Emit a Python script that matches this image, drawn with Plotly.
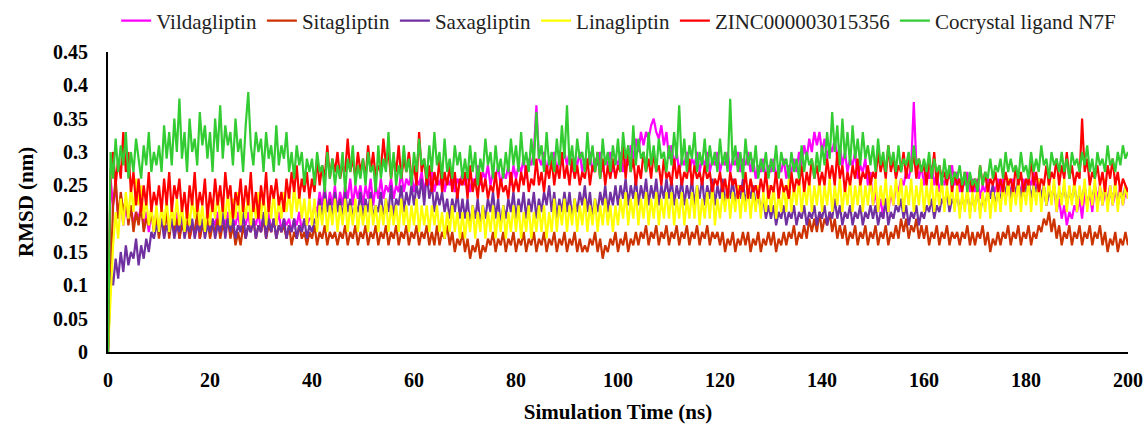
import plotly.graph_objects as go

# time axis: one sample every 0.5 ns, 0 .. 200 ns
time_ns = [i * 0.5 for i in range(401)]

vildagliptin = [
    0.00, 0.26, 0.22, 0.25, 0.20, 0.23, 0.19, 0.22, 0.20, 0.22, 0.19, 0.21, 0.20, 0.22, 0.19, 0.21, 0.18, 0.21, 0.19, 0.21,
    0.18, 0.20, 0.19, 0.21, 0.18, 0.20, 0.19, 0.21, 0.17, 0.20, 0.18, 0.20, 0.17, 0.19, 0.18, 0.20, 0.17, 0.19, 0.18, 0.20,
    0.18, 0.20, 0.19, 0.21, 0.18, 0.20, 0.19, 0.21, 0.18, 0.20, 0.19, 0.21, 0.18, 0.20, 0.19, 0.21, 0.18, 0.20, 0.19, 0.21,
    0.18, 0.20, 0.19, 0.21, 0.18, 0.20, 0.19, 0.21, 0.18, 0.20, 0.19, 0.20, 0.18, 0.20, 0.19, 0.21, 0.18, 0.20, 0.19, 0.20,
    0.20, 0.22, 0.21, 0.24, 0.22, 0.25, 0.21, 0.24, 0.22, 0.25, 0.21, 0.24, 0.22, 0.25, 0.23, 0.26, 0.22, 0.25, 0.23, 0.25,
    0.22, 0.25, 0.23, 0.26, 0.22, 0.25, 0.23, 0.26, 0.23, 0.25, 0.24, 0.26, 0.23, 0.25, 0.24, 0.27, 0.24, 0.26, 0.25, 0.27,
    0.24, 0.26, 0.25, 0.27, 0.24, 0.26, 0.25, 0.27, 0.24, 0.26, 0.25, 0.27, 0.24, 0.26, 0.25, 0.27, 0.24, 0.26, 0.25, 0.27,
    0.25, 0.27, 0.24, 0.26, 0.25, 0.28, 0.25, 0.27, 0.26, 0.28, 0.25, 0.27, 0.26, 0.28, 0.25, 0.27, 0.26, 0.28, 0.25, 0.28,
    0.26, 0.28, 0.27, 0.29, 0.26, 0.29, 0.28, 0.30, 0.37, 0.29, 0.28, 0.30, 0.27, 0.29, 0.28, 0.30, 0.27, 0.29, 0.28, 0.30,
    0.28, 0.30, 0.27, 0.29, 0.28, 0.30, 0.27, 0.29, 0.28, 0.30, 0.27, 0.29, 0.28, 0.30, 0.27, 0.29, 0.28, 0.30, 0.27, 0.29,
    0.28, 0.30, 0.27, 0.29, 0.28, 0.31, 0.29, 0.32, 0.30, 0.33, 0.31, 0.33, 0.32, 0.34, 0.35, 0.33, 0.32, 0.34, 0.31, 0.33,
    0.29, 0.31, 0.28, 0.30, 0.27, 0.29, 0.28, 0.30, 0.27, 0.29, 0.28, 0.30, 0.27, 0.29, 0.28, 0.30, 0.27, 0.29, 0.28, 0.30,
    0.27, 0.29, 0.28, 0.30, 0.27, 0.29, 0.28, 0.30, 0.27, 0.29, 0.28, 0.30, 0.27, 0.29, 0.26, 0.28, 0.27, 0.29, 0.26, 0.28,
    0.27, 0.29, 0.26, 0.28, 0.27, 0.29, 0.26, 0.28, 0.27, 0.29, 0.27, 0.30, 0.28, 0.31, 0.29, 0.32, 0.30, 0.33, 0.31, 0.33,
    0.30, 0.32, 0.29, 0.31, 0.30, 0.32, 0.29, 0.31, 0.28, 0.30, 0.27, 0.29, 0.28, 0.30, 0.26, 0.28, 0.27, 0.29, 0.25, 0.27,
    0.22, 0.24, 0.21, 0.23, 0.20, 0.23, 0.21, 0.24, 0.22, 0.25, 0.24, 0.26, 0.25, 0.27, 0.26, 0.28, 0.375, 0.28, 0.26, 0.28,
    0.25, 0.27, 0.26, 0.28, 0.25, 0.27, 0.24, 0.26, 0.25, 0.27, 0.26, 0.28, 0.25, 0.27, 0.24, 0.26, 0.25, 0.27, 0.24, 0.26,
    0.24, 0.26, 0.23, 0.25, 0.24, 0.26, 0.23, 0.25, 0.24, 0.26, 0.24, 0.26, 0.23, 0.25, 0.24, 0.26, 0.23, 0.25, 0.24, 0.26,
    0.24, 0.26, 0.25, 0.27, 0.24, 0.26, 0.23, 0.25, 0.22, 0.24, 0.23, 0.25, 0.21, 0.23, 0.20, 0.22, 0.19, 0.21, 0.20, 0.22,
    0.21, 0.23, 0.20, 0.24, 0.22, 0.24, 0.21, 0.25, 0.23, 0.25, 0.22, 0.24, 0.23, 0.25, 0.22, 0.24, 0.23, 0.25, 0.22, 0.24,
    0.23,
]

sitagliptin = [
    0.00, 0.10, 0.22, 0.26, 0.20, 0.24, 0.21, 0.23, 0.19, 0.22, 0.18, 0.21, 0.19, 0.22, 0.18, 0.20, 0.19, 0.21, 0.18, 0.20,
    0.17, 0.20, 0.18, 0.21, 0.17, 0.20, 0.18, 0.20, 0.17, 0.19, 0.18, 0.20, 0.17, 0.19, 0.18, 0.21, 0.17, 0.19, 0.18, 0.20,
    0.17, 0.19, 0.18, 0.20, 0.17, 0.19, 0.18, 0.20, 0.17, 0.19, 0.16, 0.18, 0.16, 0.19, 0.17, 0.19, 0.18, 0.20, 0.17, 0.19,
    0.18, 0.20, 0.17, 0.19, 0.18, 0.20, 0.17, 0.19, 0.18, 0.19, 0.17, 0.19, 0.16, 0.18, 0.17, 0.19, 0.17, 0.18, 0.16, 0.18,
    0.17, 0.19, 0.16, 0.18, 0.17, 0.19, 0.16, 0.18, 0.17, 0.18, 0.16, 0.18, 0.17, 0.19, 0.16, 0.18, 0.17, 0.19, 0.16, 0.18,
    0.17, 0.19, 0.16, 0.18, 0.17, 0.19, 0.16, 0.18, 0.17, 0.19, 0.16, 0.18, 0.17, 0.19, 0.16, 0.18, 0.17, 0.19, 0.16, 0.18,
    0.17, 0.19, 0.16, 0.18, 0.17, 0.19, 0.16, 0.18, 0.16, 0.19, 0.16, 0.18, 0.17, 0.19, 0.16, 0.18, 0.15, 0.17, 0.16, 0.18,
    0.15, 0.17, 0.14, 0.16, 0.15, 0.17, 0.14, 0.16, 0.15, 0.17, 0.16, 0.18, 0.15, 0.17, 0.16, 0.18, 0.15, 0.17, 0.16, 0.18,
    0.15, 0.17, 0.16, 0.18, 0.15, 0.17, 0.16, 0.18, 0.15, 0.17, 0.16, 0.18, 0.15, 0.17, 0.16, 0.18, 0.15, 0.17, 0.16, 0.18,
    0.15, 0.17, 0.16, 0.18, 0.15, 0.17, 0.15, 0.16, 0.15, 0.17, 0.16, 0.18, 0.15, 0.17, 0.14, 0.16, 0.15, 0.17, 0.16, 0.18,
    0.15, 0.17, 0.16, 0.18, 0.15, 0.17, 0.16, 0.18, 0.16, 0.18, 0.17, 0.19, 0.16, 0.18, 0.17, 0.19, 0.16, 0.18, 0.17, 0.19,
    0.16, 0.18, 0.17, 0.19, 0.16, 0.18, 0.17, 0.19, 0.16, 0.18, 0.17, 0.19, 0.16, 0.18, 0.17, 0.19, 0.16, 0.18, 0.17, 0.18,
    0.16, 0.18, 0.15, 0.17, 0.16, 0.18, 0.15, 0.17, 0.16, 0.18, 0.16, 0.18, 0.15, 0.17, 0.16, 0.18, 0.15, 0.17, 0.16, 0.18,
    0.16, 0.18, 0.15, 0.17, 0.16, 0.18, 0.16, 0.18, 0.17, 0.19, 0.16, 0.18, 0.17, 0.19, 0.17, 0.20, 0.18, 0.20, 0.18, 0.21,
    0.18, 0.20, 0.19, 0.21, 0.18, 0.20, 0.17, 0.19, 0.17, 0.19, 0.16, 0.18, 0.17, 0.19, 0.16, 0.18, 0.17, 0.19, 0.16, 0.18,
    0.17, 0.19, 0.16, 0.18, 0.17, 0.19, 0.16, 0.18, 0.17, 0.19, 0.17, 0.20, 0.18, 0.20, 0.17, 0.19, 0.18, 0.20, 0.17, 0.19,
    0.17, 0.19, 0.16, 0.18, 0.17, 0.19, 0.16, 0.18, 0.17, 0.19, 0.16, 0.18, 0.17, 0.18, 0.16, 0.18, 0.17, 0.19, 0.16, 0.18,
    0.16, 0.18, 0.17, 0.19, 0.16, 0.18, 0.15, 0.17, 0.16, 0.18, 0.16, 0.18, 0.17, 0.19, 0.16, 0.18, 0.17, 0.19, 0.16, 0.18,
    0.17, 0.19, 0.16, 0.18, 0.17, 0.19, 0.18, 0.20, 0.19, 0.21, 0.18, 0.20, 0.17, 0.19, 0.16, 0.18, 0.17, 0.19, 0.16, 0.18,
    0.17, 0.19, 0.16, 0.18, 0.17, 0.19, 0.16, 0.18, 0.17, 0.19, 0.16, 0.18, 0.15, 0.17, 0.16, 0.18, 0.15, 0.17, 0.16, 0.18,
    0.16,
]

saxagliptin = [
    0.00, 0.12, 0.10, 0.14, 0.11, 0.15, 0.12, 0.16, 0.13, 0.15, 0.14, 0.17, 0.13, 0.16, 0.14, 0.17, 0.15, 0.18, 0.17, 0.19,
    0.18, 0.20, 0.17, 0.19, 0.18, 0.20, 0.17, 0.19, 0.18, 0.21, 0.17, 0.19, 0.18, 0.20, 0.17, 0.19, 0.18, 0.20, 0.17, 0.19,
    0.18, 0.20, 0.17, 0.19, 0.18, 0.21, 0.17, 0.20, 0.18, 0.20, 0.17, 0.19, 0.18, 0.21, 0.17, 0.19, 0.18, 0.20, 0.17, 0.19,
    0.18, 0.21, 0.17, 0.20, 0.18, 0.20, 0.17, 0.19, 0.18, 0.20, 0.17, 0.19, 0.18, 0.20, 0.17, 0.19, 0.18, 0.20, 0.17, 0.19,
    0.18, 0.20, 0.19, 0.23, 0.20, 0.24, 0.21, 0.23, 0.20, 0.24, 0.21, 0.23, 0.20, 0.24, 0.21, 0.23, 0.20, 0.22, 0.21, 0.24,
    0.20, 0.23, 0.21, 0.24, 0.20, 0.22, 0.21, 0.24, 0.20, 0.23, 0.21, 0.25, 0.20, 0.23, 0.22, 0.25, 0.21, 0.24, 0.22, 0.25,
    0.22, 0.25, 0.23, 0.26, 0.22, 0.27, 0.23, 0.25, 0.21, 0.24, 0.22, 0.24, 0.21, 0.23, 0.20, 0.23, 0.21, 0.24, 0.20, 0.23,
    0.20, 0.23, 0.19, 0.22, 0.20, 0.23, 0.19, 0.22, 0.20, 0.23, 0.21, 0.24, 0.20, 0.23, 0.19, 0.22, 0.20, 0.23, 0.21, 0.24,
    0.20, 0.23, 0.21, 0.24, 0.20, 0.23, 0.21, 0.24, 0.20, 0.23, 0.21, 0.24, 0.22, 0.25, 0.21, 0.24, 0.20, 0.23, 0.21, 0.24,
    0.21, 0.24, 0.20, 0.23, 0.21, 0.24, 0.22, 0.25, 0.21, 0.24, 0.20, 0.23, 0.21, 0.24, 0.22, 0.25, 0.21, 0.24, 0.22, 0.25,
    0.22, 0.25, 0.23, 0.26, 0.22, 0.25, 0.23, 0.26, 0.22, 0.25, 0.23, 0.26, 0.22, 0.25, 0.23, 0.26, 0.22, 0.25, 0.23, 0.26,
    0.23, 0.26, 0.22, 0.25, 0.23, 0.26, 0.22, 0.25, 0.23, 0.26, 0.22, 0.25, 0.23, 0.26, 0.22, 0.25, 0.23, 0.26, 0.22, 0.25,
    0.23, 0.26, 0.22, 0.25, 0.23, 0.26, 0.22, 0.25, 0.23, 0.26, 0.22, 0.25, 0.23, 0.25, 0.22, 0.24, 0.21, 0.23, 0.20, 0.22,
    0.20, 0.22, 0.19, 0.21, 0.20, 0.22, 0.19, 0.21, 0.20, 0.22, 0.19, 0.21, 0.20, 0.22, 0.19, 0.21, 0.20, 0.22, 0.19, 0.21,
    0.20, 0.22, 0.19, 0.21, 0.20, 0.23, 0.20, 0.22, 0.19, 0.21, 0.20, 0.22, 0.19, 0.21, 0.20, 0.22, 0.19, 0.21, 0.20, 0.22,
    0.20, 0.22, 0.19, 0.21, 0.20, 0.23, 0.19, 0.21, 0.20, 0.22, 0.21, 0.23, 0.20, 0.22, 0.19, 0.21, 0.20, 0.22, 0.19, 0.21,
    0.20, 0.22, 0.21, 0.23, 0.20, 0.22, 0.21, 0.23, 0.22, 0.24, 0.21, 0.23, 0.22, 0.24, 0.21, 0.23, 0.22, 0.24, 0.21, 0.23,
    0.22, 0.24, 0.21, 0.23, 0.22, 0.24, 0.23, 0.25, 0.22, 0.24, 0.23, 0.25, 0.24, 0.26, 0.23, 0.25, 0.24, 0.26, 0.23, 0.25,
    0.24, 0.26, 0.23, 0.25, 0.24, 0.26, 0.23, 0.25, 0.22, 0.24, 0.23, 0.25, 0.22, 0.24, 0.23, 0.25, 0.22, 0.24, 0.23, 0.25,
    0.22, 0.24, 0.23, 0.25, 0.22, 0.24, 0.23, 0.25, 0.22, 0.24, 0.23, 0.25, 0.22, 0.24, 0.23, 0.25, 0.22, 0.24, 0.23, 0.25,
    0.24,
]

linagliptin = [
    0.00, 0.09, 0.16, 0.21, 0.17, 0.23, 0.19, 0.24, 0.20, 0.25, 0.21, 0.26, 0.22, 0.25, 0.20, 0.23, 0.19, 0.22, 0.18, 0.22,
    0.18, 0.22, 0.19, 0.23, 0.18, 0.22, 0.19, 0.23, 0.19, 0.22, 0.18, 0.22, 0.19, 0.23, 0.20, 0.23, 0.19, 0.22, 0.18, 0.22,
    0.19, 0.23, 0.20, 0.24, 0.19, 0.23, 0.20, 0.24, 0.19, 0.23, 0.20, 0.24, 0.19, 0.23, 0.20, 0.24, 0.19, 0.23, 0.20, 0.24,
    0.20, 0.24, 0.19, 0.23, 0.20, 0.24, 0.19, 0.23, 0.20, 0.24, 0.21, 0.24, 0.20, 0.25, 0.21, 0.24, 0.20, 0.23, 0.19, 0.23,
    0.19, 0.23, 0.18, 0.22, 0.19, 0.23, 0.18, 0.22, 0.19, 0.23, 0.18, 0.22, 0.19, 0.23, 0.18, 0.22, 0.19, 0.23, 0.18, 0.22,
    0.19, 0.22, 0.18, 0.23, 0.19, 0.22, 0.18, 0.22, 0.19, 0.23, 0.18, 0.22, 0.19, 0.22, 0.18, 0.23, 0.19, 0.22, 0.18, 0.22,
    0.19, 0.23, 0.18, 0.22, 0.19, 0.22, 0.18, 0.22, 0.19, 0.22, 0.18, 0.21, 0.17, 0.21, 0.18, 0.22, 0.18, 0.21, 0.17, 0.21,
    0.17, 0.21, 0.18, 0.22, 0.17, 0.21, 0.18, 0.22, 0.17, 0.21, 0.18, 0.22, 0.17, 0.21, 0.18, 0.22, 0.17, 0.21, 0.18, 0.22,
    0.18, 0.22, 0.17, 0.21, 0.18, 0.22, 0.17, 0.21, 0.18, 0.22, 0.18, 0.22, 0.17, 0.21, 0.18, 0.23, 0.18, 0.22, 0.19, 0.23,
    0.18, 0.22, 0.19, 0.23, 0.18, 0.22, 0.19, 0.23, 0.18, 0.22, 0.19, 0.23, 0.18, 0.22, 0.19, 0.23, 0.19, 0.22, 0.18, 0.22,
    0.19, 0.23, 0.20, 0.24, 0.19, 0.23, 0.20, 0.24, 0.19, 0.23, 0.20, 0.24, 0.19, 0.23, 0.20, 0.24, 0.19, 0.23, 0.20, 0.24,
    0.20, 0.24, 0.19, 0.23, 0.20, 0.24, 0.19, 0.23, 0.20, 0.24, 0.20, 0.25, 0.19, 0.23, 0.20, 0.24, 0.20, 0.25, 0.19, 0.23,
    0.20, 0.24, 0.21, 0.25, 0.20, 0.24, 0.21, 0.25, 0.20, 0.24, 0.21, 0.25, 0.20, 0.24, 0.21, 0.25, 0.20, 0.24, 0.21, 0.25,
    0.21, 0.25, 0.20, 0.24, 0.21, 0.25, 0.21, 0.26, 0.21, 0.25, 0.22, 0.26, 0.21, 0.25, 0.22, 0.26, 0.21, 0.25, 0.22, 0.26,
    0.21, 0.25, 0.22, 0.26, 0.21, 0.25, 0.22, 0.26, 0.21, 0.25, 0.22, 0.26, 0.21, 0.25, 0.22, 0.26, 0.21, 0.25, 0.22, 0.26,
    0.22, 0.26, 0.21, 0.25, 0.22, 0.26, 0.21, 0.25, 0.22, 0.26, 0.22, 0.26, 0.21, 0.25, 0.22, 0.26, 0.21, 0.25, 0.22, 0.26,
    0.21, 0.25, 0.22, 0.26, 0.21, 0.25, 0.22, 0.26, 0.21, 0.25, 0.22, 0.25, 0.21, 0.25, 0.20, 0.24, 0.21, 0.25, 0.20, 0.24,
    0.21, 0.25, 0.20, 0.24, 0.21, 0.25, 0.20, 0.24, 0.21, 0.25, 0.21, 0.25, 0.22, 0.26, 0.21, 0.25, 0.22, 0.26, 0.21, 0.25,
    0.22, 0.26, 0.21, 0.25, 0.22, 0.26, 0.21, 0.25, 0.22, 0.26, 0.22, 0.26, 0.21, 0.25, 0.22, 0.26, 0.21, 0.25, 0.22, 0.26,
    0.21, 0.25, 0.22, 0.26, 0.21, 0.25, 0.22, 0.26, 0.21, 0.25, 0.22, 0.26, 0.21, 0.25, 0.22, 0.26, 0.21, 0.25, 0.22, 0.25,
    0.23,
]

zinc000003015356 = [
    0.00, 0.27, 0.30, 0.25, 0.29, 0.26, 0.33, 0.27, 0.30, 0.24, 0.27, 0.22, 0.26, 0.21, 0.25, 0.22, 0.27, 0.21, 0.24, 0.22,
    0.25, 0.21, 0.26, 0.22, 0.27, 0.21, 0.25, 0.23, 0.26, 0.21, 0.24, 0.20, 0.25, 0.22, 0.27, 0.21, 0.24, 0.22, 0.26, 0.20,
    0.24, 0.21, 0.26, 0.22, 0.25, 0.21, 0.27, 0.23, 0.25, 0.20, 0.24, 0.22, 0.26, 0.21, 0.25, 0.22, 0.27, 0.21, 0.24, 0.20,
    0.25, 0.22, 0.27, 0.21, 0.25, 0.23, 0.26, 0.22, 0.24, 0.21, 0.26, 0.23, 0.27, 0.24, 0.28, 0.23, 0.26, 0.24, 0.27, 0.23,
    0.26, 0.24, 0.29, 0.25, 0.28, 0.26, 0.31, 0.26, 0.29, 0.27, 0.30, 0.26, 0.28, 0.27, 0.32, 0.27, 0.29, 0.26, 0.30, 0.27,
    0.29, 0.26, 0.31, 0.27, 0.30, 0.26, 0.28, 0.27, 0.32, 0.28, 0.30, 0.26, 0.29, 0.27, 0.31, 0.26, 0.29, 0.27, 0.30, 0.26,
    0.28, 0.25, 0.33, 0.27, 0.29, 0.25, 0.28, 0.24, 0.27, 0.25, 0.29, 0.24, 0.27, 0.25, 0.28, 0.24, 0.27, 0.23, 0.26, 0.25,
    0.27, 0.23, 0.28, 0.24, 0.26, 0.23, 0.27, 0.24, 0.26, 0.23, 0.25, 0.24, 0.27, 0.23, 0.26, 0.24, 0.25, 0.23, 0.27, 0.24,
    0.26, 0.24, 0.27, 0.25, 0.28, 0.24, 0.26, 0.25, 0.29, 0.25, 0.27, 0.24, 0.28, 0.26, 0.29, 0.25, 0.28, 0.26, 0.30, 0.26,
    0.28, 0.25, 0.29, 0.26, 0.28, 0.25, 0.27, 0.26, 0.29, 0.25, 0.28, 0.27, 0.30, 0.26, 0.29, 0.25, 0.28, 0.26, 0.29, 0.26,
    0.28, 0.27, 0.31, 0.26, 0.30, 0.27, 0.29, 0.25, 0.28, 0.26, 0.30, 0.27, 0.29, 0.26, 0.30, 0.27, 0.28, 0.25, 0.29, 0.26,
    0.27, 0.25, 0.29, 0.26, 0.28, 0.25, 0.27, 0.26, 0.29, 0.25, 0.28, 0.26, 0.27, 0.25, 0.28, 0.26, 0.27, 0.24, 0.26, 0.25,
    0.27, 0.24, 0.26, 0.23, 0.27, 0.25, 0.26, 0.23, 0.25, 0.24, 0.27, 0.23, 0.26, 0.24, 0.25, 0.23, 0.26, 0.24, 0.27, 0.23,
    0.25, 0.24, 0.27, 0.23, 0.26, 0.24, 0.25, 0.23, 0.27, 0.24, 0.26, 0.25, 0.28, 0.24, 0.27, 0.25, 0.29, 0.26, 0.28, 0.25,
    0.27, 0.25, 0.29, 0.26, 0.28, 0.25, 0.30, 0.26, 0.28, 0.24, 0.27, 0.25, 0.28, 0.26, 0.29, 0.25, 0.27, 0.26, 0.28, 0.25,
    0.27, 0.26, 0.30, 0.27, 0.29, 0.26, 0.31, 0.27, 0.29, 0.26, 0.28, 0.27, 0.30, 0.26, 0.29, 0.27, 0.30, 0.26, 0.29, 0.27,
    0.28, 0.25, 0.29, 0.26, 0.30, 0.25, 0.28, 0.26, 0.27, 0.25, 0.28, 0.24, 0.27, 0.25, 0.26, 0.24, 0.27, 0.25, 0.26, 0.24,
    0.26, 0.24, 0.28, 0.25, 0.27, 0.24, 0.26, 0.25, 0.27, 0.24, 0.26, 0.24, 0.27, 0.25, 0.26, 0.24, 0.28, 0.25, 0.27, 0.24,
    0.26, 0.25, 0.29, 0.25, 0.27, 0.24, 0.26, 0.25, 0.28, 0.25, 0.27, 0.26, 0.29, 0.25, 0.28, 0.26, 0.30, 0.26, 0.28, 0.25,
    0.27, 0.26, 0.35, 0.27, 0.29, 0.25, 0.27, 0.26, 0.28, 0.25, 0.27, 0.24, 0.28, 0.26, 0.29, 0.25, 0.27, 0.24, 0.26, 0.25,
    0.24,
]

cocrystal_n7f = [
    0.00, 0.30, 0.26, 0.32, 0.27, 0.31, 0.28, 0.33, 0.26, 0.30, 0.27, 0.32, 0.29, 0.26, 0.31, 0.28, 0.33, 0.27, 0.30, 0.28,
    0.31, 0.27, 0.34, 0.29, 0.33, 0.28, 0.35, 0.30, 0.38, 0.29, 0.33, 0.27, 0.35, 0.30, 0.32, 0.28, 0.36, 0.31, 0.34, 0.29,
    0.33, 0.27, 0.35, 0.30, 0.37, 0.29, 0.34, 0.31, 0.33, 0.28, 0.35, 0.30, 0.32, 0.27, 0.34, 0.39, 0.31, 0.28, 0.33, 0.30,
    0.32, 0.27, 0.33, 0.29, 0.31, 0.27, 0.34, 0.28, 0.31, 0.29, 0.33, 0.27, 0.30, 0.26, 0.31, 0.28, 0.30, 0.25, 0.29, 0.27,
    0.29, 0.25, 0.30, 0.27, 0.28, 0.24, 0.30, 0.26, 0.29, 0.25, 0.28, 0.26, 0.30, 0.24, 0.29, 0.27, 0.31, 0.25, 0.28, 0.26,
    0.29, 0.25, 0.30, 0.27, 0.28, 0.24, 0.31, 0.26, 0.29, 0.27, 0.33, 0.26, 0.30, 0.25, 0.28, 0.26, 0.31, 0.27, 0.29, 0.25,
    0.30, 0.27, 0.32, 0.28, 0.29, 0.26, 0.31, 0.27, 0.33, 0.28, 0.30, 0.26, 0.32, 0.27, 0.29, 0.26, 0.31, 0.28, 0.30, 0.26,
    0.29, 0.26, 0.31, 0.27, 0.30, 0.25, 0.29, 0.27, 0.32, 0.28, 0.30, 0.26, 0.31, 0.27, 0.29, 0.26, 0.30, 0.27, 0.32, 0.28,
    0.31, 0.27, 0.33, 0.28, 0.30, 0.27, 0.32, 0.28, 0.36, 0.29, 0.31, 0.27, 0.33, 0.28, 0.30, 0.27, 0.32, 0.28, 0.34, 0.29,
    0.37, 0.28, 0.31, 0.27, 0.32, 0.29, 0.30, 0.27, 0.33, 0.28, 0.31, 0.27, 0.30, 0.26, 0.32, 0.28, 0.30, 0.27, 0.31, 0.28,
    0.32, 0.27, 0.33, 0.29, 0.31, 0.27, 0.34, 0.28, 0.32, 0.29, 0.30, 0.27, 0.33, 0.28, 0.31, 0.27, 0.32, 0.29, 0.30, 0.27,
    0.31, 0.28, 0.33, 0.29, 0.37, 0.28, 0.32, 0.27, 0.31, 0.29, 0.33, 0.27, 0.30, 0.28, 0.32, 0.27, 0.31, 0.28, 0.30, 0.27,
    0.32, 0.28, 0.30, 0.27, 0.38, 0.28, 0.31, 0.27, 0.30, 0.26, 0.32, 0.28, 0.30, 0.27, 0.31, 0.26, 0.29, 0.27, 0.30, 0.26,
    0.29, 0.27, 0.31, 0.26, 0.30, 0.28, 0.29, 0.26, 0.30, 0.27, 0.29, 0.26, 0.31, 0.27, 0.30, 0.28, 0.29, 0.26, 0.30, 0.27,
    0.31, 0.28, 0.33, 0.29, 0.36, 0.30, 0.34, 0.28, 0.35, 0.29, 0.33, 0.28, 0.34, 0.29, 0.32, 0.28, 0.33, 0.29, 0.31, 0.28,
    0.31, 0.27, 0.32, 0.28, 0.30, 0.27, 0.31, 0.28, 0.30, 0.27, 0.31, 0.27, 0.29, 0.28, 0.30, 0.27, 0.31, 0.28, 0.29, 0.27,
    0.29, 0.27, 0.30, 0.26, 0.29, 0.27, 0.28, 0.25, 0.29, 0.26, 0.28, 0.25, 0.27, 0.26, 0.28, 0.25, 0.27, 0.24, 0.27, 0.25,
    0.26, 0.24, 0.28, 0.25, 0.27, 0.26, 0.29, 0.26, 0.28, 0.27, 0.29, 0.26, 0.30, 0.27, 0.29, 0.27, 0.28, 0.26, 0.30, 0.27,
    0.28, 0.26, 0.30, 0.27, 0.29, 0.27, 0.31, 0.28, 0.29, 0.26, 0.30, 0.28, 0.29, 0.27, 0.30, 0.27, 0.29, 0.26, 0.30, 0.28,
    0.29, 0.27, 0.30, 0.28, 0.31, 0.27, 0.29, 0.26, 0.30, 0.28, 0.29, 0.27, 0.31, 0.28, 0.29, 0.27, 0.30, 0.28, 0.31, 0.29,
    0.30,
]

series_names = ["Vildagliptin", "Sitagliptin", "Saxagliptin", "Linagliptin",
                "ZINC000003015356", "Cocrystal ligand N7F"]
series_values = [vildagliptin, sitagliptin, saxagliptin, linagliptin,
                 zinc000003015356, cocrystal_n7f]
series_colors = ["#FF00FF", "#CC3300", "#7030A0", "#FFFF00", "#FF0000", "#33CC33"]

y_tick_vals = [0, 0.05, 0.1, 0.15, 0.2, 0.25, 0.3, 0.35, 0.4, 0.45]
y_tick_text = ["0", "0.05", "0.1", "0.15", "0.2", "0.25", "0.3", "0.35", "0.4", "0.45"]
x_tick_vals = [0, 20, 40, 60, 80, 100, 120, 140, 160, 180, 200]

fig = go.Figure()
for name, vals, col in zip(series_names, series_values, series_colors):
    fig.add_trace(go.Scatter(x=time_ns[:len(vals)], y=vals, mode="lines", name=name,
                             line=dict(color=col, width=2.2)))

serif = "Liberation Serif, Times New Roman, serif"
W, H = 1145, 426
ML, MR, MT, MB = 108, 17, 52, 74
plot_h = H - MT - MB  # 300 px

fig.update_layout(
    width=W, height=H,
    margin=dict(l=ML, r=MR, t=MT, b=MB, autoexpand=False),
    paper_bgcolor="white", plot_bgcolor="white",
    font=dict(family=serif, color="#000000"),
    showlegend=True,
    legend=dict(orientation="h", x=0.008, xanchor="left",
                y=1 + (MT - 21) / plot_h, yanchor="middle", yref="paper",
                font=dict(family=serif, size=21, color="#222222"),
                bgcolor="rgba(0,0,0,0)", itemwidth=30, tracegroupgap=0),
    xaxis=dict(range=[0, 200], tickvals=x_tick_vals, showgrid=False, zeroline=False,
               showline=True, linecolor="#000000", linewidth=2, ticks="",
               tickfont=dict(family=serif, size=20, color="#000000", weight="bold"),
               ticklabelstandoff=9, automargin=False,
               title=dict(text="<b>Simulation Time (ns)</b>", standoff=14,
                          font=dict(family=serif, size=21, color="#000000"))),
    yaxis=dict(range=[0, 0.45],
               tickvals=y_tick_vals, ticktext=y_tick_text,
               showgrid=False, zeroline=False, automargin=False,
               showline=True, linecolor="#000000", linewidth=2, ticks="",
               tickfont=dict(family=serif, size=20, color="#000000", weight="bold"),
               ticklabelstandoff=14),
    annotations=[dict(text="<b>RMSD (nm)</b>", textangle=-90, showarrow=False,
                      xref="paper", yref="paper",
                      x=(26 - ML) / (W - ML - MR), y=0.5,
                      xanchor="center", yanchor="middle",
                      font=dict(family=serif, size=21, color="#000000"))],
)

fig.write_html("out.html",
               config={"displayModeBar": False},
               post_script="document.body.style.margin='0';document.body.style.overflow='hidden';")
